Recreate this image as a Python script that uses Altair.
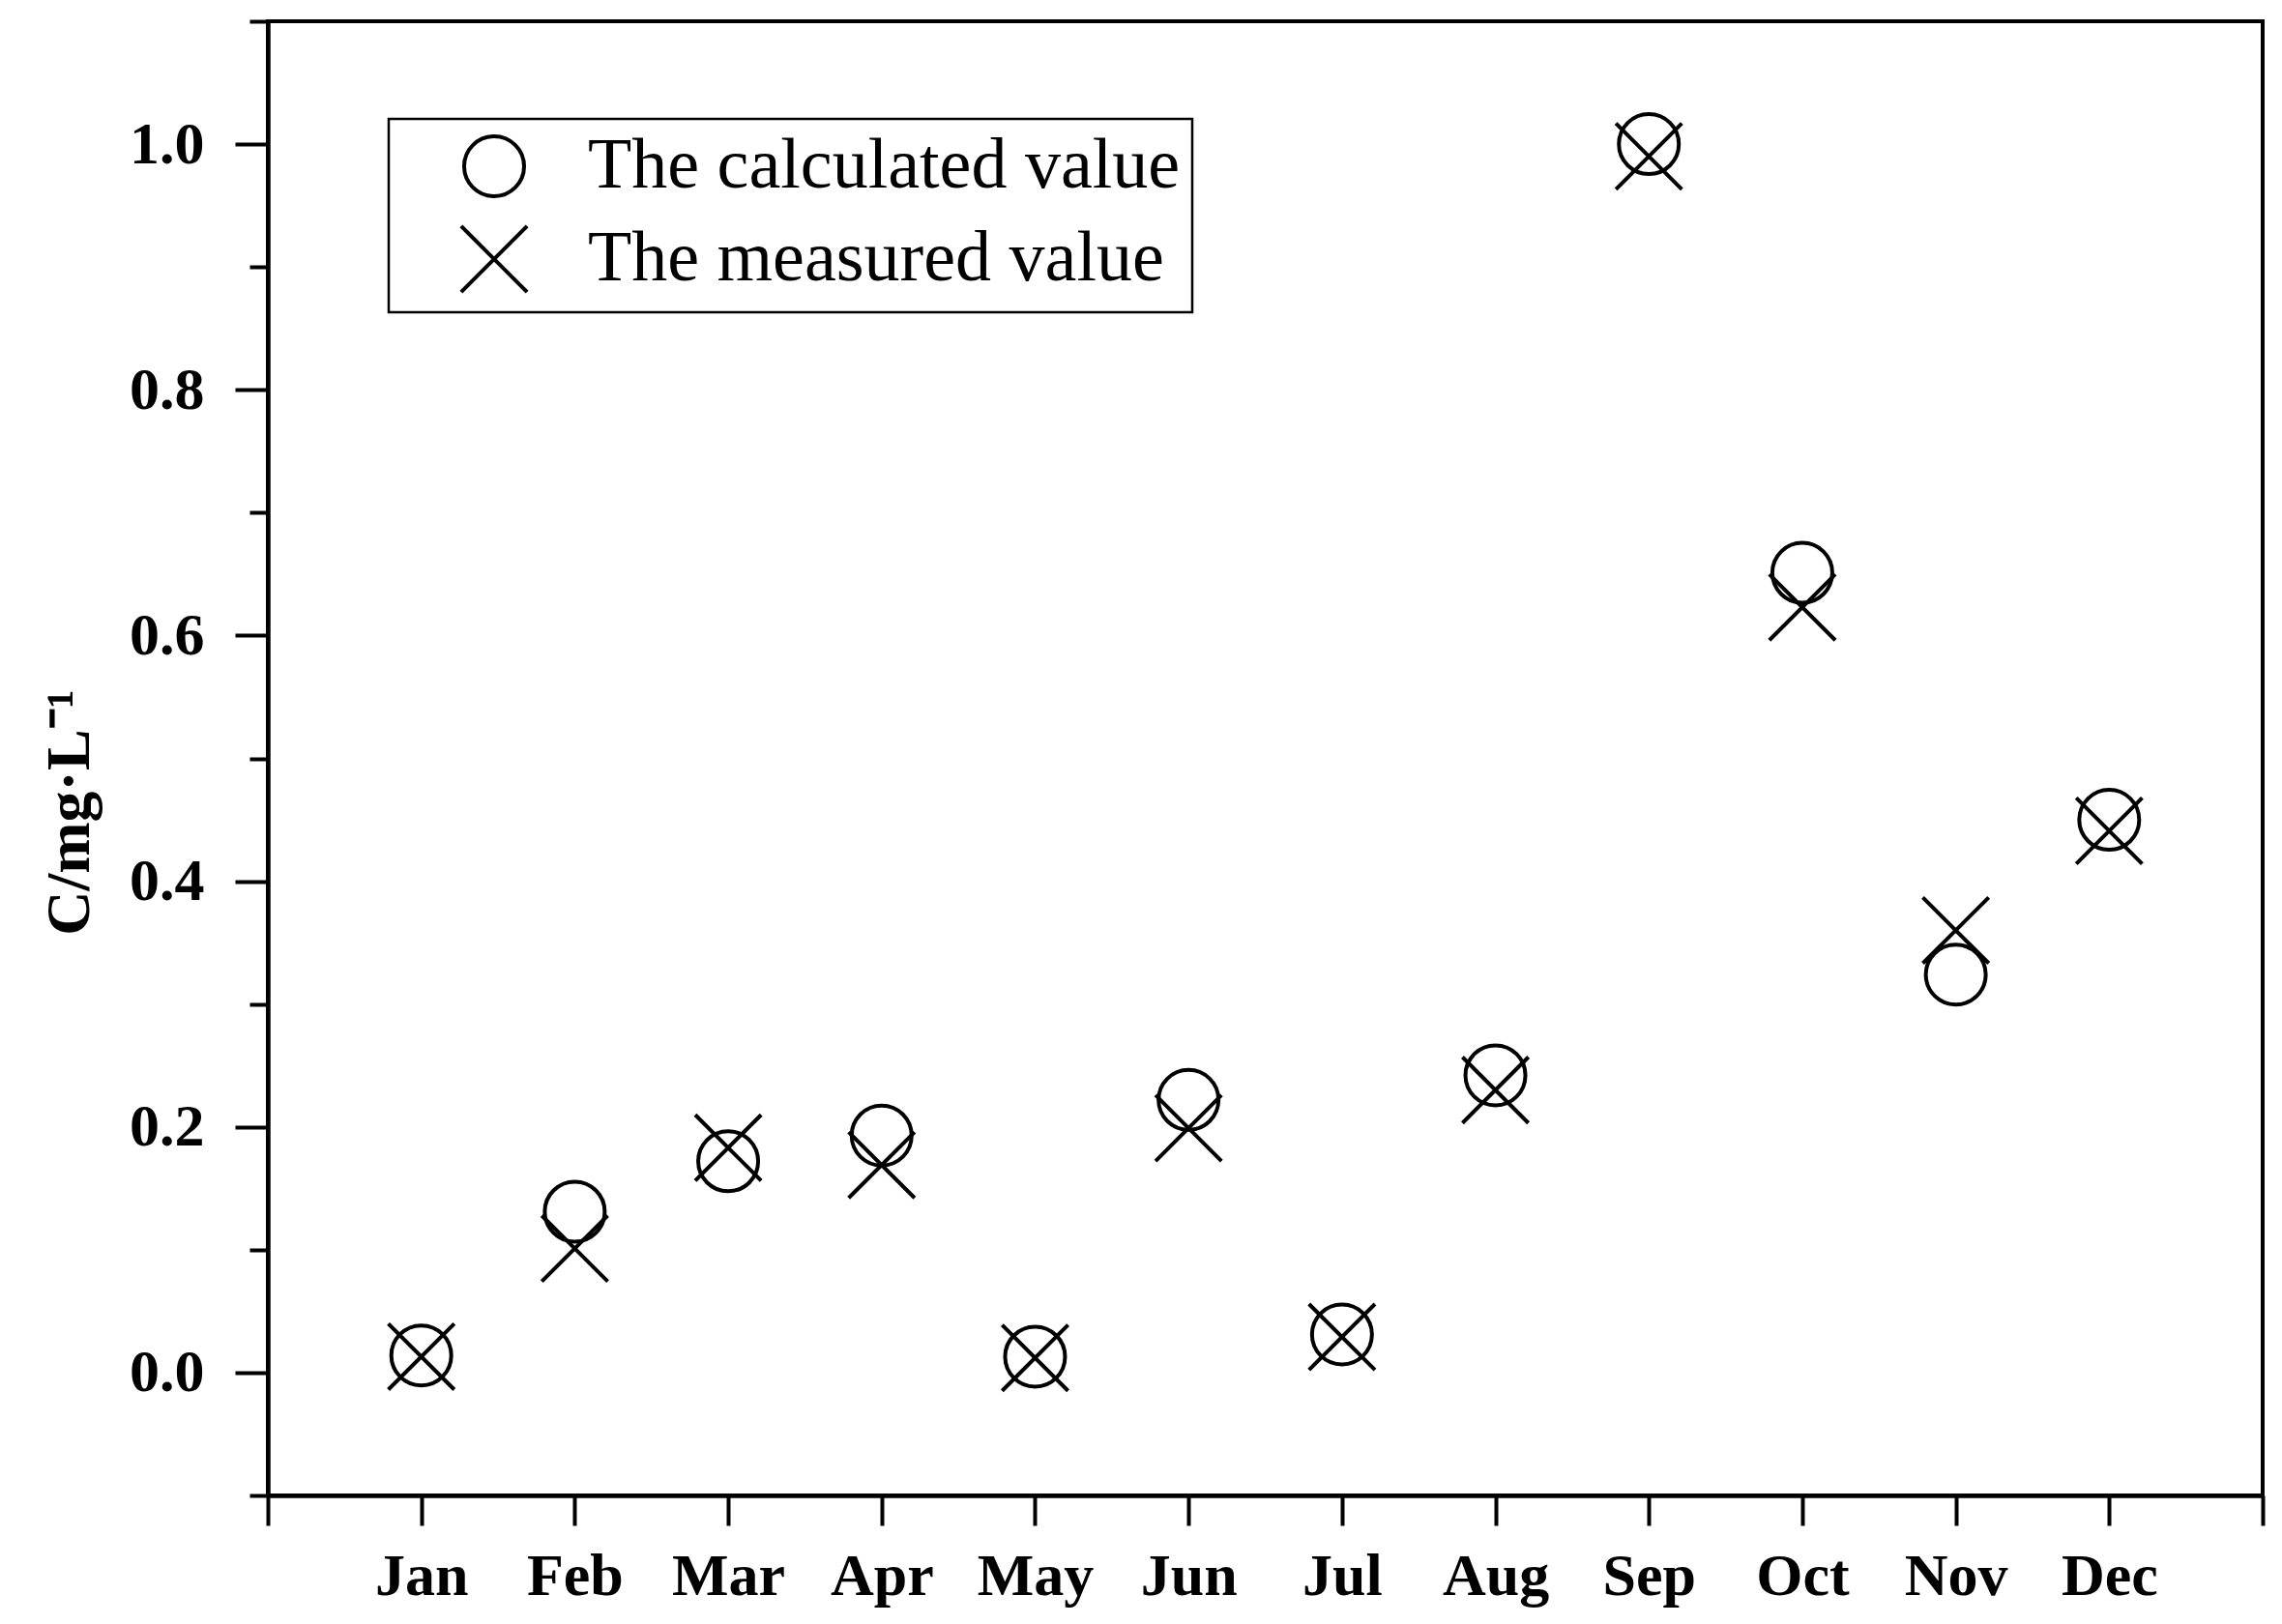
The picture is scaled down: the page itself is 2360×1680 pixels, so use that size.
import altair as alt
import pandas as pd

months = ["Jan", "Feb", "Mar", "Apr", "May", "Jun", "Jul", "Aug", "Sep", "Oct", "Nov", "Dec"]
calculated = [0.014, 0.131, 0.172, 0.193, 0.013, 0.222, 0.031, 0.242, 1.0, 0.651, 0.324, 0.450]
measured = [0.013, 0.101, 0.183, 0.169, 0.012, 0.199, 0.029, 0.230, 0.99, 0.623, 0.360, 0.441]
series_names = ["The calculated value", "The measured value"]

rows = []
for i, m in enumerate(months):
    rows.append({"pos": i + 1, "month": m, "series": series_names[0], "value": calculated[i]})
for i, m in enumerate(months):
    rows.append({"pos": i + 1, "month": m, "series": series_names[1], "value": measured[i]})
df = pd.DataFrame(rows)

x_labels = [""] + months + [""]
x_label_expr = "[" + ",".join("'%s'" % s for s in x_labels) + "][datum.value]"
x_ticks = list(range(0, 14))
y_ticks = [round(-0.1 + 0.1 * i, 1) for i in range(13)]
major_test = "abs(round(datum.value*10)) % 2 == 0"

FONT = "Liberation Serif"
X_PATH = "M-1.1,-1.1L1.1,1.1M-1.1,1.1L1.1,-1.1"

chart = alt.Chart(df).mark_point(filled=False, strokeWidth=4, color="black", opacity=1, size=3844).encode(
    x=alt.X("pos:Q",
            scale=alt.Scale(domain=[0, 13], nice=False, zero=False),
            axis=alt.Axis(values=x_ticks, labelExpr=x_label_expr, title=None,
                          tickSize=31, tickWidth=4, domainWidth=4.5,
                          labelFont=FONT, labelFontWeight="bold", labelFontSize=62,
                          labelPadding=22, labelColor="black", grid=False,
                          domainColor="black", tickColor="black")),
    y=alt.Y("value:Q",
            scale=alt.Scale(domain=[-0.1, 1.1], nice=False, zero=False),
            axis=alt.Axis(values=y_ticks,
                          labelExpr=major_test + " ? format(datum.value, '.1f') : ''",
                          tickSize={"condition": {"test": major_test, "value": 34}, "value": 19},
                          tickWidth=4, domainWidth=4.5, grid=False,
                          labelFont=FONT, labelFontWeight="bold", labelFontSize=62,
                          labelPadding=32, labelColor="black",
                          domainColor="black", tickColor="black",
                          title="C/mg·L⁻¹", titleFont=FONT, titleFontWeight="bold",
                          titleFontSize=64, titleColor="black",
                          titleAngle=270, titleAlign="center", titleBaseline="middle",
                          titleX=-205, titleY=818)),
    shape=alt.Shape("series:N",
                    scale=alt.Scale(domain=series_names, range=["circle", X_PATH]),
                    legend=alt.Legend(title=None, orient="none", legendX=125, legendY=101,
                                      labelFont=FONT, labelFontSize=74, labelColor="black",
                                      labelLimit=2000,
                                      symbolSize=3844, symbolStrokeWidth=4,
                                      symbolStrokeColor="black", symbolFillColor="transparent",
                                      symbolOffset=60, labelOffset=60, rowPadding=14,
                                      padding=12, strokeColor="black", fillColor="white")),
).properties(
    width=2063,
    height=1525,
    background="white",
    autosize=alt.AutoSizeParams(type="none"),
    padding={"left": 269, "top": 14, "right": 12, "bottom": 125},
).configure_view(
    stroke="black", strokeWidth=4, strokeOpacity=1
).configure_legend(
    strokeWidth=2.5
)

chart.save("out.html", embed_options={"renderer": "svg", "actions": False})
